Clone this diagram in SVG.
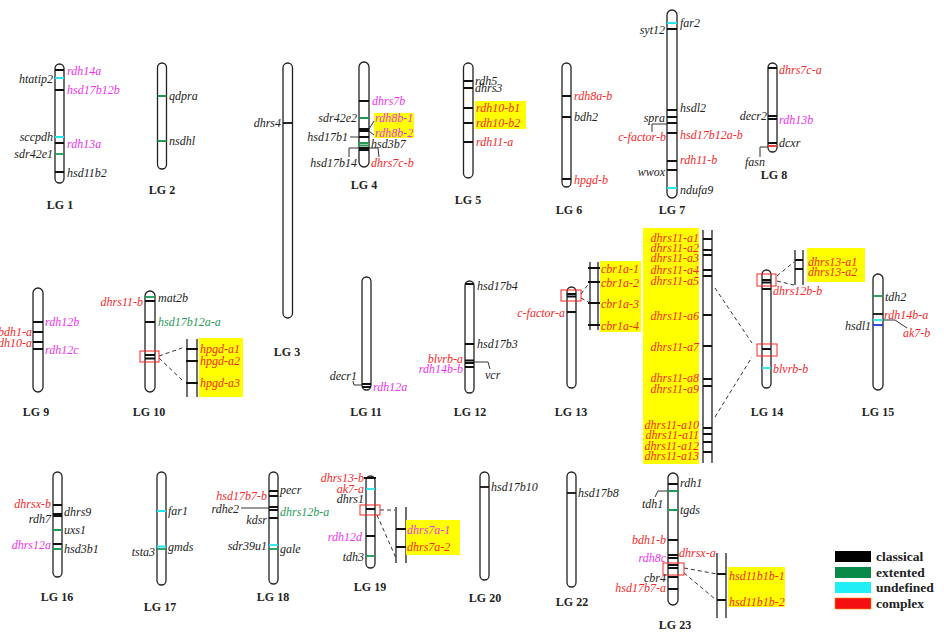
<svg xmlns="http://www.w3.org/2000/svg" width="944" height="632" viewBox="0 0 944 632">
<style>
.chr{fill:#fff;stroke:#222;stroke-width:1.3}
.b{stroke:#111;stroke-width:1.8}
.g{stroke:#1e9a55;stroke-width:1.8}
.c{stroke:#22e6f0;stroke-width:1.8}
.r{stroke:#f22;stroke-width:1.8}
.bl{stroke:#2030e0;stroke-width:1.8}
.v{stroke:#222;stroke-width:1.3}
text{font-family:"Liberation Serif","Times New Roman",serif;font-style:italic;font-size:12px;fill:#222}
.e{text-anchor:end}
.tr{fill:#f42a2a}
.tm{fill:#ee33ee}
.tg{fill:#2a9a5a}
.lg{font-style:normal;font-weight:bold;text-anchor:middle;fill:#222}
.leg{font-style:normal;font-weight:bold;font-size:13.5px;fill:#222}
.hl{fill:#ffff00}
.box{fill:none;stroke:#f22;stroke-width:1}
.dash{stroke:#333;stroke-width:1;stroke-dasharray:4 3;fill:none}
.ln{stroke:#333;stroke-width:1;fill:none}
</style>
<rect width="944" height="632" fill="#fff"/>

<g id="connectors">
<path class="dash" d="M159,356 L182,348 M159,358 L182,380"/>
<path class="dash" d="M581,294 L590,282 M581,298 L590,303"/>
<path class="dash" d="M715,288 L752,343 M715,417 L752,357"/>
<path class="dash" d="M777,276 L794,262 M777,281 L794,285"/>
<path class="dash" d="M380,510 L395,510 M377,515 L396,558"/>
<path class="dash" d="M684,568 L717,574 M684,573 L715,599"/>
</g>

<g id="LG1">
<rect class="chr" x="55" y="64" width="9" height="119" rx="4.5"/>
<path class="b" d="M55,70h9M55,90h9M55,143h9M55,172h9"/>
<path class="c" d="M55,78h9M55,137h9"/>
<path class="g" d="M55,154h9"/>
<text class="tm" x="67" y="75">rdh14a</text>
<text class="tm" x="67" y="94">hsd17b12b</text>
<text class="e" x="53" y="83">htatip2</text>
<text class="e" x="53" y="141">sccpdh</text>
<text class="tm" x="67" y="148">rdh13a</text>
<text class="e" x="53" y="158">sdr42e1</text>
<text x="67" y="177">hsd11b2</text>
<text class="lg" x="60" y="209">LG 1</text>
</g>

<g id="LG2">
<rect class="chr" x="157.5" y="63" width="9" height="106" rx="4.5"/>
<path class="g" d="M157.5,96h9M157.5,141h9"/>
<text x="169" y="100">qdpra</text>
<text x="169" y="145">nsdhl</text>
<text class="lg" x="162" y="194">LG 2</text>
</g>

<g id="LG3">
<rect class="chr" x="283" y="63" width="9.5" height="255" rx="4.75"/>
<path class="b" d="M283,123h9.5"/>
<text class="e" x="281" y="127">dhrs4</text>
<text class="lg" x="287" y="356">LG 3</text>
</g>

<g id="LG4">
<rect class="chr" x="359" y="62" width="10" height="105" rx="5"/>
<path class="b" d="M359,101h10M359,129h10M359,131h10M359,137h10M359,148h10M359,150h10"/>
<path class="g" d="M359,118h10M359,143h10M359,145.5h10"/>
<rect class="hl" x="374" y="113" width="40" height="25"/>
<path class="ln" d="M369,129L374,121M369,131L374,135M350,137H359M359,148H349V157M369,148H378L379,157"/>
<text class="tm" x="372" y="105">dhrs7b</text>
<text class="e" x="357" y="122">sdr42e2</text>
<text class="tm" x="375" y="122">rdh8b-1</text>
<text class="tm" x="375" y="137">rdh8b-2</text>
<text class="e" x="348" y="141">hsd17b1</text>
<text x="371" y="148">hsd3b7</text>
<text class="e" x="357" y="167">hsd17b14</text>
<text class="tr" x="371" y="167">dhrs7c-b</text>
<text class="lg" x="364" y="189">LG 4</text>
</g>

<g id="LG5">
<rect class="chr" x="463.5" y="63" width="9.5" height="115" rx="4.75"/>
<path class="b" d="M463.5,81h9.5M463.5,88h9.5M463.5,108h9.5M463.5,123h9.5M463.5,142h9.5"/>
<rect class="hl" x="475" y="101" width="51" height="28"/>
<text x="475" y="85">rdh5</text>
<text x="475" y="92">dhrs3</text>
<text class="tr" x="476" y="112">rdh10-b1</text>
<text class="tr" x="476" y="127">rdh10-b2</text>
<text class="tr" x="476" y="146">rdh11-a</text>
<text class="lg" x="468" y="204">LG 5</text>
</g>

<g id="LG6">
<rect class="chr" x="562" y="63" width="9" height="124" rx="4.5"/>
<path class="b" d="M562,96h9M562,117h9M562,179h9"/>
<text class="tr" x="574" y="100">rdh8a-b</text>
<text x="574" y="121">bdh2</text>
<text class="tr" x="574" y="184">hpgd-b</text>
<text class="lg" x="569" y="214">LG 6</text>
</g>

<g id="LG7">
<rect class="chr" x="667" y="10" width="10" height="188" rx="5"/>
<path class="b" d="M667,29h10M667,110h10M667,117h10M667,123h10M667,133h10M667,161h10M667,170h10"/>
<path class="c" d="M667,23h10M667,188h10"/>
<path class="ln" d="M652,132V124H667"/>
<text x="680" y="27">far2</text>
<text class="e" x="665" y="34">syt12</text>
<text x="680" y="112">hsdl2</text>
<text class="e" x="665" y="122">spra</text>
<text class="tr e" x="666" y="141">c-factor-b</text>
<text class="tr" x="680" y="139">hsd17b12a-b</text>
<text class="tr" x="680" y="164">rdh11-b</text>
<text class="e" x="665" y="176">wwox</text>
<text x="680" y="194">ndufa9</text>
<text class="lg" x="672" y="214">LG 7</text>
</g>

<g id="LG8">
<rect class="chr" x="768" y="63" width="9" height="89" rx="4.5"/>
<path class="b" d="M768,68h9M768,116h9M768,119h9M768,143h9"/>
<path class="r" d="M768,146h9"/>
<path class="ln" d="M768,147H760V157"/>
<text class="tr" x="779" y="74">dhrs7c-a</text>
<text class="e" x="767" y="120">decr2</text>
<text class="tm" x="779" y="124">rdh13b</text>
<text x="779" y="147">dcxr</text>
<text x="755" y="166" text-anchor="middle">fasn</text>
<text class="lg" x="774" y="179">LG 8</text>
</g>

<g id="LG9">
<rect class="chr" x="33" y="288" width="10" height="104" rx="5"/>
<path class="b" d="M33,322h10M33,332h10M33,342h10M33,349h10"/>
<text class="tm" x="45" y="326">rdh12b</text>
<text class="tr e" x="32" y="336">bdh1-a</text>
<text class="tr e" x="32" y="347">rdh10-a</text>
<text class="tm" x="45" y="354">rdh12c</text>
<text class="lg" x="36" y="416">LG 9</text>
</g>

<g id="LG10">
<rect class="chr" x="145" y="291" width="10" height="101" rx="5"/>
<path class="g" d="M145,297h10"/>
<path class="b" d="M145,301h10M145,322h10M145,355h10M145,358.5h10"/>
<rect class="box" x="140" y="351" width="19" height="11"/>
<path class="v" d="M187,339V397M197,339V397"/>
<path class="b" d="M186,349h12M186,361h12M186,383h12"/>
<rect class="hl" x="199" y="338" width="44" height="59"/>
<text x="158" y="302">mat2b</text>
<text class="tr e" x="143" y="306">dhrs11-b</text>
<text class="tg" x="158" y="326">hsd17b12a-a</text>
<text class="tr" x="200" y="353">hpgd-a1</text>
<text class="tr" x="200" y="365">hpgd-a2</text>
<text class="tr" x="200" y="387">hpgd-a3</text>
<text class="lg" x="149" y="416">LG 10</text>
</g>

<g id="LG11">
<rect class="chr" x="362" y="277" width="9" height="113" rx="4.5"/>
<path class="b" d="M362,384h9M362,387h9"/>
<path class="ln" d="M353,381L354,385H362"/>
<text class="e" x="357" y="380">decr1</text>
<text class="tm" x="373" y="391">rdh12a</text>
<text class="lg" x="366" y="416">LG 11</text>
</g>

<g id="LG12">
<rect class="chr" x="465" y="281" width="9" height="112" rx="4.5"/>
<path class="b" d="M465,284h9M465,344h9M465,360.5h9M465,363h9M465,367h9"/>
<path class="ln" d="M474,362H488L490,369"/>
<text x="477" y="290">hsd17b4</text>
<text x="477" y="348">hsd17b3</text>
<text class="tr e" x="463" y="363">blvrb-a</text>
<text class="tm e" x="463" y="373">rdh14b-b</text>
<text x="485" y="379">vcr</text>
<text class="lg" x="470" y="416">LG 12</text>
</g>

<g id="LG13">
<rect class="chr" x="567" y="287" width="9" height="101" rx="4.5"/>
<path class="b" d="M567,294h9M567,296.5h9M567,312h9"/>
<rect class="box" x="561" y="290" width="20" height="11"/>
<path class="v" d="M590,262V330M598,262V330"/>
<path class="b" d="M588,268h12M588,282h12M588,303h12M588,325h12"/>
<rect class="hl" x="600" y="261" width="41" height="71"/>
<text class="tr e" x="565" y="317">c-factor-a</text>
<text class="tr" x="601" y="273">cbr1a-1</text>
<text class="tr" x="601" y="287">cbr1a-2</text>
<text class="tr" x="601" y="308">cbr1a-3</text>
<text class="tr" x="601" y="330">cbr1a-4</text>
<text class="lg" x="571" y="416">LG 13</text>
</g>

<g id="dhrs11-cluster">
<rect class="hl" x="643" y="228" width="56" height="236"/>
<path class="v" d="M703,230V463M712,230V463"/>
<path class="b" d="M703,239h9M703,250h9M703,255h9M703,270h9M703,276h9M703,315h9M703,346h9M703,379h9M703,386h9M703,428h9M703,434h9M703,442h9M703,452h9"/>
<text class="tr e" x="699" y="242">dhrs11-a1</text>
<text class="tr e" x="699" y="252">dhrs11-a2</text>
<text class="tr e" x="699" y="262">dhrs11-a3</text>
<text class="tr e" x="699" y="274">dhrs11-a4</text>
<text class="tr e" x="699" y="285">dhrs11-a5</text>
<text class="tr e" x="699" y="320">dhrs11-a6</text>
<text class="tr e" x="699" y="351">dhrs11-a7</text>
<text class="tr e" x="699" y="382">dhrs11-a8</text>
<text class="tr e" x="699" y="393">dhrs11-a9</text>
<text class="tr e" x="699" y="429">dhrs11-a10</text>
<text class="tr e" x="699" y="439">dhrs11-a11</text>
<text class="tr e" x="699" y="450">dhrs11-a12</text>
<text class="tr e" x="699" y="460">dhrs11-a13</text>
</g>

<g id="LG14">
<rect class="chr" x="762" y="270" width="9" height="118" rx="4.5"/>
<path class="b" d="M762,280h9M762,282.5h9M762,289h9M762,349h9"/>
<path class="c" d="M762,368h9"/>
<rect class="box" x="757" y="274" width="19" height="12"/>
<rect class="box" x="757" y="344" width="20" height="12"/>
<path class="v" d="M795,250V285M803,250V285"/>
<path class="b" d="M795,260h8M795,269h8"/>
<rect class="hl" x="807" y="248" width="58" height="34"/>
<text class="tr" x="773" y="295">dhrs12b-b</text>
<text class="tr" x="773" y="373">blvrb-b</text>
<text class="tr" x="808" y="266">dhrs13-a1</text>
<text class="tr" x="808" y="276">dhrs13-a2</text>
<text class="lg" x="767" y="416">LG 14</text>
</g>

<g id="LG15">
<rect class="chr" x="873" y="274" width="10" height="116" rx="5"/>
<path class="g" d="M873,296h10"/>
<path class="b" d="M873,314h10"/>
<path class="c" d="M873,320h10"/>
<path class="bl" d="M873,325h10"/>
<path class="ln" d="M883,320H895L907,328"/>
<text x="885" y="301">tdh2</text>
<text class="tr" x="884" y="319">rdh14b-a</text>
<text class="e" x="871" y="330">hsdl1</text>
<text class="tr" x="903" y="337">ak7-b</text>
<text class="lg" x="878" y="416">LG 15</text>
</g>

<g id="LG16">
<rect class="chr" x="53" y="472" width="9" height="105" rx="4.5"/>
<path class="b" d="M53,505h9M53,514h9M53,516h9M53,544h9"/>
<path class="g" d="M53,530h9M53,549h9"/>
<text class="tr e" x="51" y="508">dhrsx-b</text>
<text x="64" y="516">dhrs9</text>
<text class="e" x="51" y="523">rdh7</text>
<text x="64" y="534">uxs1</text>
<text class="tm e" x="51" y="549">dhrs12a</text>
<text x="64" y="553">hsd3b1</text>
<text class="lg" x="57" y="601">LG 16</text>
</g>

<g id="LG17">
<rect class="chr" x="157" y="472" width="9" height="113" rx="4.5"/>
<path class="c" d="M157,511h9M157,546.5h9"/>
<path class="g" d="M157,549h9"/>
<text x="168" y="515">far1</text>
<text x="168" y="551">gmds</text>
<text class="e" x="155" y="556">tsta3</text>
<text class="lg" x="160" y="611">LG 17</text>
</g>

<g id="LG18">
<rect class="chr" x="269" y="472" width="9" height="112" rx="4.5"/>
<path class="b" d="M269,491h9M269,496h9M269,507h9M269,510h9M269,518h9"/>
<path class="c" d="M269,545h9"/>
<path class="g" d="M269,549h9"/>
<path class="ln" d="M241,508H269"/>
<text x="280" y="494">pecr</text>
<text class="tr e" x="267" y="500">hsd17b7-b</text>
<text class="e" x="239" y="513">rdhe2</text>
<text class="tg" x="280" y="516">dhrs12b-a</text>
<text class="e" x="267" y="524">kdsr</text>
<text class="e" x="267" y="550">sdr39u1</text>
<text x="280" y="553">gale</text>
<text class="lg" x="273" y="601">LG 18</text>
</g>

<g id="LG19">
<rect class="chr" x="366" y="476" width="9" height="92" rx="4.5"/>
<path class="b" d="M364,478h12M366,509h9M366,536h9"/>
<path class="c" d="M366,489h9"/>
<path class="g" d="M366,556h9"/>
<rect class="box" x="360" y="505" width="20" height="10"/>
<path class="v" d="M396,507V563M406,507V563"/>
<path class="b" d="M396,529h10M396,547h10"/>
<rect class="hl" x="406" y="520" width="54" height="35"/>
<text class="tr e" x="364" y="482">dhrs13-b</text>
<text class="tr e" x="364" y="493">ak7-a</text>
<text class="e" x="364" y="503">dhrs1</text>
<text class="tm e" x="362" y="541">rdh12d</text>
<text class="e" x="364" y="561">tdh3</text>
<text class="tm" x="407" y="534">dhrs7a-1</text>
<text class="tr" x="407" y="551">dhrs7a-2</text>
<text class="lg" x="370" y="591">LG 19</text>
</g>

<g id="LG20">
<rect class="chr" x="480" y="472" width="9" height="108" rx="4.5"/>
<path class="b" d="M480,487h9"/>
<text x="491" y="491">hsd17b10</text>
<text class="lg" x="485" y="602">LG 20</text>
</g>

<g id="LG22">
<rect class="chr" x="567" y="472" width="9" height="115" rx="4.5"/>
<path class="b" d="M567,493h9"/>
<text x="578" y="497">hsd17b8</text>
<text class="lg" x="572" y="606">LG 22</text>
</g>

<g id="LG23">
<rect class="chr" x="668" y="473" width="10" height="132" rx="5"/>
<path class="b" d="M668,484h10M668,540h10M668,555h10M668,558h10M668,565h10M668,568h10M668,577h10M668,589h10"/>
<path class="g" d="M668,491h10M668,510h10"/>
<rect class="box" x="663" y="563" width="21" height="12"/>
<path class="ln" d="M655,497L658,491H668"/>
<path class="v" d="M717,553V618M726,553V618"/>
<path class="b" d="M717,574h9M717,600h9"/>
<rect class="hl" x="728" y="567" width="57" height="40"/>
<text x="680" y="487">rdh1</text>
<text x="642" y="508">tdh1</text>
<text x="680" y="514">tgds</text>
<text class="tr e" x="666" y="544">bdh1-b</text>
<text class="tr" x="679" y="557">dhrsx-a</text>
<text class="tm e" x="666" y="562">rdh8c</text>
<text class="e" x="666" y="582">cbr4</text>
<text class="tr e" x="666" y="592">hsd17b7-a</text>
<text class="tr" x="729" y="580">hsd11b1b-1</text>
<text class="tr" x="729" y="606">hsd11b1b-2</text>
<text class="lg" x="675" y="629">LG 23</text>
</g>

<g id="legend">
<rect x="835" y="551" width="36" height="11" fill="#000"/>
<rect x="835" y="567" width="36" height="11" fill="#0a8a48"/>
<rect x="835" y="582" width="36" height="11" fill="#22eef5"/>
<rect x="835" y="598" width="36" height="11" fill="#f41010" stroke="#f80" stroke-width="0.6"/>
<text class="leg" x="876" y="561">classical</text>
<text class="leg" x="876" y="577">extented</text>
<text class="leg" x="876" y="592">undefined</text>
<text class="leg" x="876" y="608">complex</text>
</g>
</svg>
